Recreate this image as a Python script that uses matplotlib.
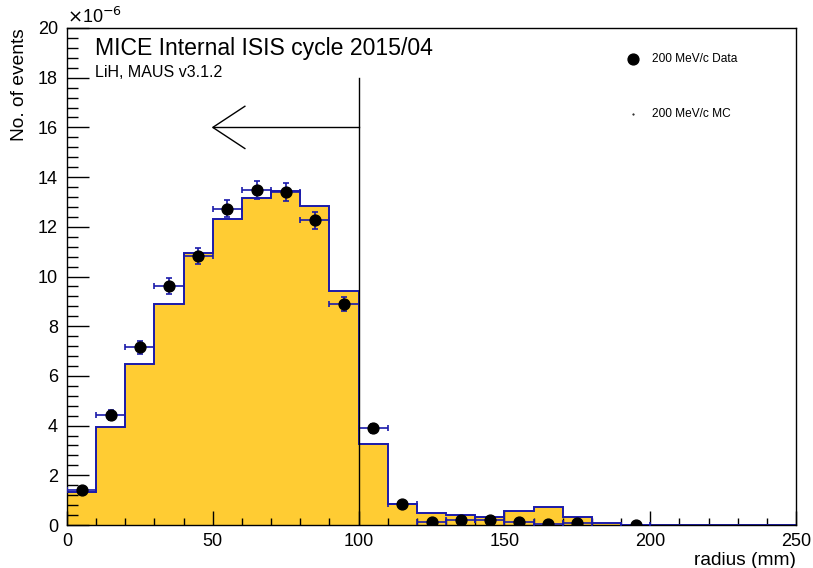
import numpy as np
import matplotlib
matplotlib.use("Agg")
import matplotlib.pyplot as plt
from matplotlib.ticker import MultipleLocator

plt.rcParams['font.family'] = ['Liberation Sans', 'DejaVu Sans']

# bin edges (radius, mm)
bin_edges = list(range(0, 210, 10))
# MC histogram contents (units of 1e-6)
mc_values = [1.34, 3.96, 6.48, 8.89, 10.96, 12.33, 13.17, 13.44, 12.85, 9.42,
             3.25, 0.83, 0.47, 0.40, 0.31, 0.56, 0.72, 0.31, 0.07, 0.01]
# Data points (units of 1e-6)
data_x = [5, 15, 25, 35, 45, 55, 65, 75, 85, 95,
          105, 115, 125, 135, 145, 155, 165, 175, 195]
data_y = [1.41, 4.43, 7.15, 9.62, 10.82, 12.73, 13.49, 13.40, 12.26, 8.91,
          3.89, 0.86, 0.12, 0.20, 0.20, 0.12, 0.04, 0.08, 0.02]
data_yerr = [0.12, 0.20, 0.25, 0.32, 0.32, 0.34, 0.36, 0.35, 0.33, 0.28,
             0.18, 0.10, 0.05, 0.05, 0.05, 0.04, 0.03, 0.04, 0.02]
data_xerr = [5] * len(data_x)

W, H = 813, 568
L, R, T, B = 67, 796, 28, 525
fig = plt.figure(figsize=(W/100, H/100), dpi=100)
ax = fig.add_axes([L/W, (H-B)/H, (R-L)/W, (B-T)/H])

def px2data(px, py):
    return (px - L) / (R - L) * 250, (B - py) / (B - T) * 20

ax.stairs(mc_values, bin_edges, fill=True, color='#ffcc33', zorder=1)
ax.stairs(mc_values, bin_edges, fill=False, color='#1a1aaa', lw=1.4, zorder=2)
ax.plot([200, 250], [0, 0], color='#1a1aaa', lw=1.4, zorder=2)

ax.errorbar(data_x, data_y, xerr=data_xerr, yerr=data_yerr, fmt='o',
            color='black', ms=7.8, ecolor='#1a1aaa', elinewidth=1.2,
            capsize=2.5, capthick=1.2, zorder=4)

# cut line and arrow
ax.plot([100, 100], [0, 18], color='black', lw=1, zorder=5)
ax.plot([100, 50], [16, 16], color='black', lw=1, zorder=5)
ax.plot([61, 50, 61], [16.85, 16, 15.15], color='black', lw=1, zorder=5)

ax.set_xlim(0, 250)
ax.set_ylim(0, 20)
ax.xaxis.set_major_locator(MultipleLocator(50))
ax.xaxis.set_minor_locator(MultipleLocator(10))
ax.yaxis.set_major_locator(MultipleLocator(2))
ax.yaxis.set_minor_locator(MultipleLocator(0.4))
ax.tick_params(axis='x', which='major', direction='in', length=10, width=1, labelsize=13, pad=6)
ax.tick_params(axis='x', which='minor', direction='in', length=5, width=1)
ax.tick_params(axis='y', which='major', direction='in', length=16, width=1, labelsize=13, pad=6.5)
ax.tick_params(axis='y', which='minor', direction='in', length=8, width=1)
for s in ax.spines.values():
    s.set_linewidth(1)

fig.text(67/W, 1 - 17/H, r'$\times$10$^{-6}$', fontsize=13, ha='left', va='center')

ax.set_xlabel('radius (mm)', fontsize=13.8, loc='right', labelpad=1)
ax.set_ylabel('No. of events', fontsize=13.8, loc='top', labelpad=7)

tx, ty = px2data(95, 48)
ax.text(tx, ty, 'MICE Internal ISIS cycle 2015/04',
        fontsize=16.6, ha='left', va='center', zorder=6)
tx, ty = px2data(95, 73)
ax.text(tx, ty, 'LiH, MAUS v3.1.2',
        fontsize=11.5, ha='left', va='center', zorder=6)

# legend (manual)
mx, my = px2data(633, 59)
ttx, _ = px2data(652, 59)
ax.plot([mx], [my], 'o', color='black', ms=7.8, zorder=6)
ax.text(ttx, my, '200 MeV/c Data', fontsize=8.6, ha='left', va='center')
mx, my = px2data(633, 114)
ax.plot([mx], [my], '.', color='black', ms=1, zorder=6)
ax.text(ttx, my, '200 MeV/c MC', fontsize=8.6, ha='left', va='center')

fig.savefig('out.png', dpi=100)
